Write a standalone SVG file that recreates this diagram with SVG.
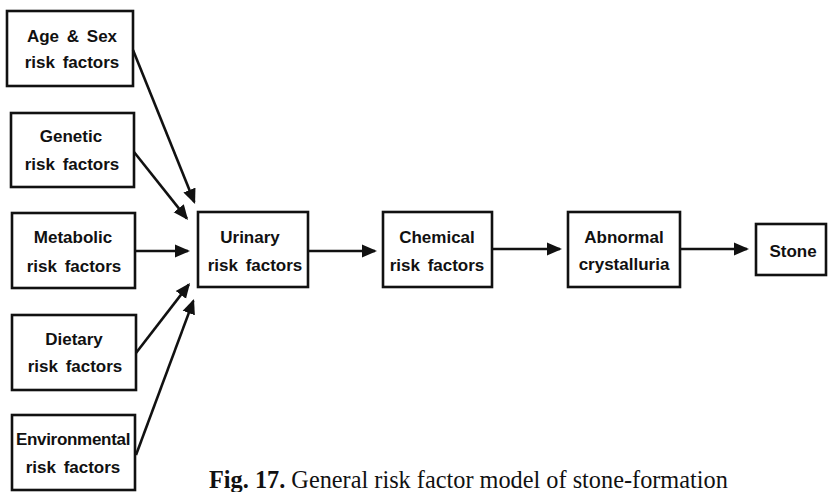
<svg xmlns="http://www.w3.org/2000/svg" width="828" height="492" viewBox="0 0 828 492">
  <style>
    .box { fill: #fff; stroke: #111; stroke-width: 2.6; }
    .lbl { font-family: "Liberation Sans", Arial, sans-serif; font-weight: bold; font-size: 17px; fill: #111; text-anchor: middle; word-spacing: 3px; }
    .edge { stroke: #111; stroke-width: 2.6; fill: none; marker-end: url(#arrow); }
    .cap { font-family: "Liberation Serif", "Times New Roman", serif; font-size: 24.3px; fill: #111; }
  </style>
  <defs>
    <marker id="arrow" markerUnits="userSpaceOnUse" markerWidth="16" markerHeight="14" refX="13" refY="7" orient="auto">
      <path d="M0,0.5 L15,7 L0,13.5 z" fill="#111"/>
    </marker>
  </defs>
  <rect width="828" height="492" fill="#fff"/>

  <g id="age-sex">
    <rect class="box" x="7" y="11" width="126" height="75"/>
    <text class="lbl" x="72" y="42">Age &amp; Sex</text>
    <text class="lbl" x="72" y="68">risk factors</text>
  </g>
  <g id="genetic">
    <rect class="box" x="11" y="113" width="123" height="74"/>
    <text class="lbl" x="71" y="142">Genetic</text>
    <text class="lbl" x="72" y="170">risk factors</text>
  </g>
  <g id="metabolic">
    <rect class="box" x="12" y="213" width="123" height="75"/>
    <text class="lbl" x="73" y="243">Metabolic</text>
    <text class="lbl" x="74" y="272">risk factors</text>
  </g>
  <g id="dietary">
    <rect class="box" x="12" y="315" width="124" height="75"/>
    <text class="lbl" x="74" y="345">Dietary</text>
    <text class="lbl" x="75" y="372">risk factors</text>
  </g>
  <g id="environmental">
    <rect class="box" x="12" y="415" width="123" height="75"/>
    <text class="lbl" x="73" y="445" style="letter-spacing:-0.3px">Environmental</text>
    <text class="lbl" x="73" y="473">risk factors</text>
  </g>
  <g id="urinary">
    <rect class="box" x="198" y="212" width="110" height="75"/>
    <text class="lbl" x="250" y="243">Urinary</text>
    <text class="lbl" x="255" y="271">risk factors</text>
  </g>
  <g id="chemical">
    <rect class="box" x="383" y="212" width="109" height="75"/>
    <text class="lbl" x="437" y="243">Chemical</text>
    <text class="lbl" x="437" y="271">risk factors</text>
  </g>
  <g id="crystalluria">
    <rect class="box" x="568" y="212" width="112" height="75"/>
    <text class="lbl" x="624" y="243">Abnormal</text>
    <text class="lbl" x="624" y="270">crystalluria</text>
  </g>
  <g id="stone">
    <rect class="box" x="756" y="224" width="70" height="51"/>
    <text class="lbl" x="793" y="257">Stone</text>
  </g>

  <g id="connectors">
    <line class="edge" x1="133" y1="50" x2="194.3" y2="202.1"/>
    <line class="edge" x1="134" y1="152" x2="186.8" y2="218.4"/>
    <line class="edge" x1="135" y1="251" x2="188" y2="251"/>
    <line class="edge" x1="136" y1="353" x2="188.8" y2="284.6"/>
    <line class="edge" x1="136" y1="455" x2="193.3" y2="300.9"/>
    <line class="edge" x1="308" y1="251" x2="375" y2="251"/>
    <line class="edge" x1="492" y1="249" x2="560" y2="249"/>
    <line class="edge" x1="680" y1="249" x2="747" y2="249"/>
  </g>

  <text class="cap" x="209" y="488"><tspan font-weight="bold">Fig. 17.</tspan> General risk factor model of stone-formation</text>
</svg>
